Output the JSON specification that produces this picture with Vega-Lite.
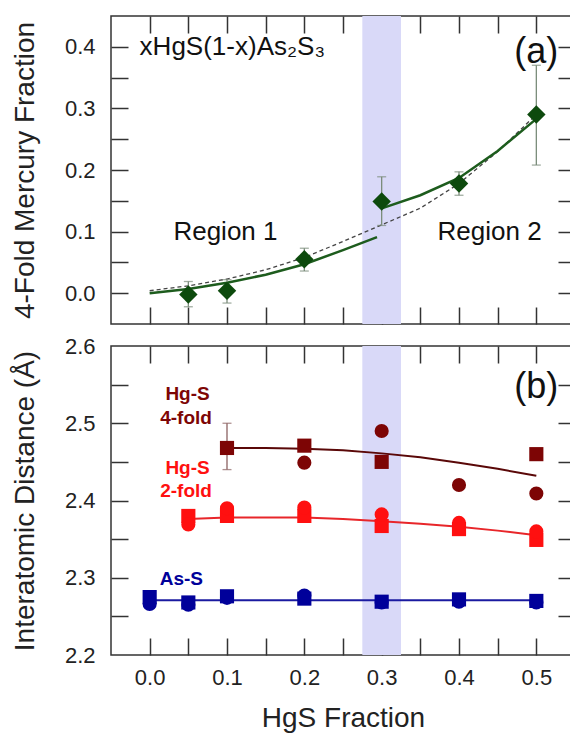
{
  "$schema": "https://vega.github.io/schema/vega-lite/v6.json",
  "padding": {"left": 10, "top": 14, "right": 0, "bottom": 0},
  "spacing": 22,
  "bounds": "flush",
  "datasets": {
    "top_pts": [
      {"x": 0.05, "y": -0.002, "lo": -0.022, "hi": 0.019},
      {"x": 0.1, "y": 0.004, "lo": -0.016, "hi": 0.022},
      {"x": 0.2, "y": 0.055, "lo": 0.036, "hi": 0.073},
      {"x": 0.3, "y": 0.149, "lo": 0.11, "hi": 0.189},
      {"x": 0.4, "y": 0.178, "lo": 0.159, "hi": 0.197},
      {"x": 0.5, "y": 0.29, "lo": 0.208, "hi": 0.37}
    ],
    "top_fit": [
      {"region": "Region 1", "x": 0.0, "y": 0.0},
      {"region": "Region 1", "x": 0.05, "y": 0.007},
      {"region": "Region 1", "x": 0.1, "y": 0.017},
      {"region": "Region 1", "x": 0.15, "y": 0.03},
      {"region": "Region 1", "x": 0.2, "y": 0.047},
      {"region": "Region 1", "x": 0.25, "y": 0.07},
      {"region": "Region 1", "x": 0.294, "y": 0.091},
      {"region": "Region 2", "x": 0.301, "y": 0.138},
      {"region": "Region 2", "x": 0.35, "y": 0.159},
      {"region": "Region 2", "x": 0.4, "y": 0.187},
      {"region": "Region 2", "x": 0.45, "y": 0.231},
      {"region": "Region 2", "x": 0.5, "y": 0.283}
    ],
    "top_dash": [
      {"x": 0.0, "y": 0.004},
      {"x": 0.05, "y": 0.012},
      {"x": 0.1, "y": 0.023},
      {"x": 0.15, "y": 0.038},
      {"x": 0.2, "y": 0.058},
      {"x": 0.25, "y": 0.084},
      {"x": 0.3, "y": 0.111},
      {"x": 0.35, "y": 0.138},
      {"x": 0.4, "y": 0.178},
      {"x": 0.45, "y": 0.23},
      {"x": 0.5, "y": 0.29}
    ],
    "bot_pts": [
      {"series": "Hg-S 4-fold", "shape": "square", "x": 0.1, "y": 2.468},
      {"series": "Hg-S 4-fold", "shape": "square", "x": 0.2, "y": 2.471},
      {"series": "Hg-S 4-fold", "shape": "square", "x": 0.3, "y": 2.45},
      {"series": "Hg-S 4-fold", "shape": "square", "x": 0.5, "y": 2.46},
      {"series": "Hg-S 4-fold", "shape": "circle", "x": 0.2, "y": 2.449},
      {"series": "Hg-S 4-fold", "shape": "circle", "x": 0.3, "y": 2.49},
      {"series": "Hg-S 4-fold", "shape": "circle", "x": 0.4, "y": 2.42},
      {"series": "Hg-S 4-fold", "shape": "circle", "x": 0.5, "y": 2.409},
      {"series": "Hg-S 2-fold", "shape": "square", "x": 0.05, "y": 2.38},
      {"series": "Hg-S 2-fold", "shape": "square", "x": 0.1, "y": 2.38},
      {"series": "Hg-S 2-fold", "shape": "square", "x": 0.2, "y": 2.38},
      {"series": "Hg-S 2-fold", "shape": "square", "x": 0.3, "y": 2.367},
      {"series": "Hg-S 2-fold", "shape": "square", "x": 0.4, "y": 2.363},
      {"series": "Hg-S 2-fold", "shape": "square", "x": 0.5, "y": 2.349},
      {"series": "Hg-S 2-fold", "shape": "circle", "x": 0.05, "y": 2.369},
      {"series": "Hg-S 2-fold", "shape": "circle", "x": 0.1, "y": 2.39},
      {"series": "Hg-S 2-fold", "shape": "circle", "x": 0.2, "y": 2.391},
      {"series": "Hg-S 2-fold", "shape": "circle", "x": 0.3, "y": 2.382},
      {"series": "Hg-S 2-fold", "shape": "circle", "x": 0.4, "y": 2.371},
      {"series": "Hg-S 2-fold", "shape": "circle", "x": 0.5, "y": 2.36},
      {"series": "As-S", "shape": "square", "x": 0.0, "y": 2.275},
      {"series": "As-S", "shape": "square", "x": 0.05, "y": 2.268},
      {"series": "As-S", "shape": "square", "x": 0.1, "y": 2.276},
      {"series": "As-S", "shape": "square", "x": 0.2, "y": 2.273},
      {"series": "As-S", "shape": "square", "x": 0.3, "y": 2.269},
      {"series": "As-S", "shape": "square", "x": 0.4, "y": 2.272},
      {"series": "As-S", "shape": "square", "x": 0.5, "y": 2.27},
      {"series": "As-S", "shape": "circle", "x": 0.0, "y": 2.266},
      {"series": "As-S", "shape": "circle", "x": 0.05, "y": 2.265},
      {"series": "As-S", "shape": "circle", "x": 0.1, "y": 2.274},
      {"series": "As-S", "shape": "circle", "x": 0.2, "y": 2.277},
      {"series": "As-S", "shape": "circle", "x": 0.3, "y": 2.268},
      {"series": "As-S", "shape": "circle", "x": 0.4, "y": 2.269},
      {"series": "As-S", "shape": "circle", "x": 0.5, "y": 2.268}
    ],
    "bot_fit": [
      {"series": "Hg-S 4-fold", "x": 0.1, "y": 2.468},
      {"series": "Hg-S 4-fold", "x": 0.15, "y": 2.468},
      {"series": "Hg-S 4-fold", "x": 0.2, "y": 2.467},
      {"series": "Hg-S 4-fold", "x": 0.25, "y": 2.465},
      {"series": "Hg-S 4-fold", "x": 0.3, "y": 2.461},
      {"series": "Hg-S 4-fold", "x": 0.35, "y": 2.456},
      {"series": "Hg-S 4-fold", "x": 0.4, "y": 2.449},
      {"series": "Hg-S 4-fold", "x": 0.45, "y": 2.441},
      {"series": "Hg-S 4-fold", "x": 0.5, "y": 2.432},
      {"series": "Hg-S 2-fold", "x": 0.05, "y": 2.376},
      {"series": "Hg-S 2-fold", "x": 0.1, "y": 2.378},
      {"series": "Hg-S 2-fold", "x": 0.15, "y": 2.378},
      {"series": "Hg-S 2-fold", "x": 0.2, "y": 2.378},
      {"series": "Hg-S 2-fold", "x": 0.25, "y": 2.376},
      {"series": "Hg-S 2-fold", "x": 0.3, "y": 2.373},
      {"series": "Hg-S 2-fold", "x": 0.35, "y": 2.37},
      {"series": "Hg-S 2-fold", "x": 0.4, "y": 2.366},
      {"series": "Hg-S 2-fold", "x": 0.45, "y": 2.361},
      {"series": "Hg-S 2-fold", "x": 0.5, "y": 2.355},
      {"series": "As-S", "x": 0.0, "y": 2.271},
      {"series": "As-S", "x": 0.5, "y": 2.271}
    ],
    "bot_err": [
      {"x": 0.1, "lo": 2.44, "hi": 2.5}
    ],
    "band": [
      {"start": 0.275, "end": 0.325}
    ]
  },
  "vconcat": [
    {
      "width": 464,
      "height": 308,
      "resolve": {"axis": {"x": "independent", "y": "independent"}},
      "layer": [
        {
          "data": {"name": "band"},
          "mark": {"type": "rect", "color": "#d9d9f8"},
          "encoding": {
            "x": {"field": "start", "type": "quantitative", "scale": {"domain": [-0.05, 0.55], "nice": false, "zero": false}, "axis": null},
            "x2": {"field": "end"}
          }
        },
        {
          "data": {"name": "top_dash"},
          "mark": {"type": "line", "color": "#444444", "strokeWidth": 1.3, "strokeDash": [4, 3]},
          "encoding": {
            "x": {"field": "x", "type": "quantitative", "scale": {"domain": [-0.05, 0.55], "nice": false, "zero": false}, "axis": null},
            "y": {"field": "y", "type": "quantitative", "scale": {"domain": [-0.05, 0.45], "nice": false, "zero": false}, "axis": null}
          }
        },
        {
          "data": {"name": "top_fit"},
          "mark": {"type": "line", "color": "#1d5c1d", "strokeWidth": 2.5},
          "encoding": {
            "x": {"field": "x", "type": "quantitative", "scale": {"domain": [-0.05, 0.55], "nice": false, "zero": false},
              "axis": {"orient": "top", "values": [0, 0.05, 0.1, 0.15, 0.2, 0.25, 0.3, 0.35, 0.4, 0.45, 0.5], "labels": false, "title": null,
                "encode": {"ticks": {"y2": {"value": {"expr": "abs(round(datum.value*20))%2==0 ? 17 : 9"}}}}}},
            "y": {"field": "y", "type": "quantitative", "scale": {"domain": [-0.05, 0.45], "nice": false, "zero": false},
              "axis": {"orient": "right", "values": [0, 0.05, 0.1, 0.15, 0.2, 0.25, 0.3, 0.35, 0.4], "labels": false, "title": null,
                "encode": {"ticks": {"x2": {"value": {"expr": "abs(round(datum.value*20))%2==0 ? -17 : -9"}}}}}},
            "detail": {"field": "region"}
          }
        },
        {
          "data": {"name": "top_pts"},
          "mark": {"type": "errorbar", "ticks": {"size": 9}, "color": "#7a8c7a", "thickness": 1.3},
          "encoding": {
            "x": {"field": "x", "type": "quantitative", "scale": {"domain": [-0.05, 0.55], "nice": false, "zero": false}, "axis": null},
            "y": {"field": "lo", "type": "quantitative", "scale": {"domain": [-0.05, 0.45], "nice": false, "zero": false}, "axis": null},
            "y2": {"field": "hi"}
          }
        },
        {
          "data": {"name": "top_pts"},
          "mark": {"type": "point", "shape": "diamond", "filled": true, "opacity": 1, "size": 340, "color": "#0d4a0d"},
          "encoding": {
            "x": {"field": "x", "type": "quantitative", "scale": {"domain": [-0.05, 0.55], "nice": false, "zero": false},
              "axis": {"orient": "bottom", "values": [0, 0.05, 0.1, 0.15, 0.2, 0.25, 0.3, 0.35, 0.4, 0.45, 0.5], "labels": false, "title": null,
                "encode": {"ticks": {"y2": {"value": {"expr": "abs(round(datum.value*20))%2==0 ? -17 : -9"}}}}}},
            "y": {"field": "y", "type": "quantitative", "scale": {"domain": [-0.05, 0.45], "nice": false, "zero": false},
              "axis": {"orient": "left", "values": [0, 0.1, 0.2, 0.3, 0.4], "title": "4-Fold Mercury Fraction",
                "ticks": false, "tickSize": 0, "labelPadding": 16, "format": ".1f"}}
          }
        },
        {
          "data": {"values": [{"label": "xHgS(1-x)As₂S₃", "x": -0.013, "y": 0.387}]},
          "mark": {"type": "text", "align": "left", "baseline": "alphabetic", "fontSize": 26, "color": "#111"},
          "encoding": {
            "x": {"field": "x", "type": "quantitative", "scale": {"domain": [-0.05, 0.55], "nice": false, "zero": false}, "axis": null},
            "y": {"field": "y", "type": "quantitative", "scale": {"domain": [-0.05, 0.45], "nice": false, "zero": false},
              "axis": {"orient": "left", "values": [0, 0.05, 0.1, 0.15, 0.2, 0.25, 0.3, 0.35, 0.4], "labels": false, "title": null,
                "encode": {"ticks": {"x2": {"value": {"expr": "abs(round(datum.value*20))%2==0 ? 17 : 9"}}}}}},
            "text": {"field": "label"}
          }
        },
        {
          "data": {"values": [{"label": "(a)", "x": 0.5, "y": 0.374}]},
          "mark": {"type": "text", "align": "center", "baseline": "alphabetic", "fontSize": 36, "color": "#111"},
          "encoding": {
            "x": {"field": "x", "type": "quantitative", "scale": {"domain": [-0.05, 0.55], "nice": false, "zero": false}, "axis": null},
            "y": {"field": "y", "type": "quantitative", "scale": {"domain": [-0.05, 0.45], "nice": false, "zero": false}, "axis": null},
            "text": {"field": "label"}
          }
        },
        {
          "data": {"values": [{"label": "Region 1", "x": 0.098, "y": 0.0865}, {"label": "Region 2", "x": 0.4395, "y": 0.0865}]},
          "mark": {"type": "text", "align": "center", "baseline": "alphabetic", "fontSize": 26, "color": "#111"},
          "encoding": {
            "x": {"field": "x", "type": "quantitative", "scale": {"domain": [-0.05, 0.55], "nice": false, "zero": false}, "axis": null},
            "y": {"field": "y", "type": "quantitative", "scale": {"domain": [-0.05, 0.45], "nice": false, "zero": false}, "axis": null},
            "text": {"field": "label"}
          }
        }
      ]
    },
    {
      "width": 464,
      "height": 309,
      "resolve": {"axis": {"x": "independent", "y": "independent"}},
      "layer": [
        {
          "data": {"name": "band"},
          "mark": {"type": "rect", "color": "#d9d9f8"},
          "encoding": {
            "x": {"field": "start", "type": "quantitative", "scale": {"domain": [-0.05, 0.55], "nice": false, "zero": false}, "axis": null},
            "x2": {"field": "end"}
          }
        },
        {
          "data": {"name": "bot_fit"},
          "mark": {"type": "line", "strokeWidth": 2},
          "encoding": {
            "x": {"field": "x", "type": "quantitative", "scale": {"domain": [-0.05, 0.55], "nice": false, "zero": false},
              "axis": {"orient": "top", "values": [0, 0.05, 0.1, 0.15, 0.2, 0.25, 0.3, 0.35, 0.4, 0.45, 0.5], "labels": false, "title": null,
                "encode": {"ticks": {"y2": {"value": {"expr": "abs(round(datum.value*20))%2==0 ? 17 : 9"}}}}}},
            "y": {"field": "y", "type": "quantitative", "scale": {"domain": [2.2, 2.6], "nice": false, "zero": false},
              "axis": {"orient": "right", "values": [2.25, 2.3, 2.35, 2.4, 2.45, 2.5, 2.55], "labels": false, "title": null,
                "encode": {"ticks": {"x2": {"value": {"expr": "abs(round(datum.value*20))%2==0 ? -17 : -9"}}}}}},
            "stroke": {"field": "series", "type": "nominal", "legend": null,
              "scale": {"domain": ["Hg-S 4-fold", "Hg-S 2-fold", "As-S"], "range": ["#5a0808", "#e8262a", "#1a1aa0"]}}
          }
        },
        {
          "data": {"name": "bot_err"},
          "mark": {"type": "errorbar", "ticks": {"size": 9}, "color": "#8b6262", "thickness": 1.3},
          "encoding": {
            "x": {"field": "x", "type": "quantitative", "scale": {"domain": [-0.05, 0.55], "nice": false, "zero": false}, "axis": null},
            "y": {"field": "lo", "type": "quantitative", "scale": {"domain": [2.2, 2.6], "nice": false, "zero": false}, "axis": null},
            "y2": {"field": "hi"}
          }
        },
        {
          "data": {"name": "bot_pts"},
          "mark": {"type": "point", "filled": true, "opacity": 1, "size": 200},
          "encoding": {
            "x": {"field": "x", "type": "quantitative", "scale": {"domain": [-0.05, 0.55], "nice": false, "zero": false},
              "axis": {"orient": "bottom", "values": [0, 0.1, 0.2, 0.3, 0.4, 0.5], "title": "HgS Fraction",
                "ticks": false, "tickSize": 0, "labelPadding": 12, "titlePadding": 16, "format": ".1f"}},
            "y": {"field": "y", "type": "quantitative", "scale": {"domain": [2.2, 2.6], "nice": false, "zero": false},
              "axis": {"orient": "left", "values": [2.2, 2.3, 2.4, 2.5, 2.6], "title": "Interatomic Distance (Å)",
                "ticks": false, "tickSize": 0, "labelPadding": 16, "format": ".1f"}},
            "color": {"field": "series", "type": "nominal", "legend": null,
              "scale": {"domain": ["Hg-S 4-fold", "Hg-S 2-fold", "As-S"], "range": ["#7d0505", "#ff1010", "#00009a"]}},
            "shape": {"field": "shape", "type": "nominal", "legend": null,
              "scale": {"domain": ["square", "circle"], "range": ["square", "circle"]}}
          }
        },
        {
          "data": {"values": [
            {"label": "Hg-S", "series": "Hg-S 4-fold", "x": 0.049, "y": 2.53},
            {"label": "4-fold", "series": "Hg-S 4-fold", "x": 0.047, "y": 2.499},
            {"label": "Hg-S", "series": "Hg-S 2-fold", "x": 0.049, "y": 2.434},
            {"label": "2-fold", "series": "Hg-S 2-fold", "x": 0.047, "y": 2.404},
            {"label": "As-S", "series": "As-S", "x": 0.041, "y": 2.29}
          ]},
          "mark": {"type": "text", "align": "center", "baseline": "alphabetic", "fontSize": 19, "fontWeight": "bold"},
          "encoding": {
            "x": {"field": "x", "type": "quantitative", "scale": {"domain": [-0.05, 0.55], "nice": false, "zero": false},
              "axis": {"orient": "bottom", "values": [0, 0.05, 0.1, 0.15, 0.2, 0.25, 0.3, 0.35, 0.4, 0.45, 0.5], "labels": false, "title": null,
                "encode": {"ticks": {"y2": {"value": {"expr": "abs(round(datum.value*20))%2==0 ? -17 : -9"}}}}}},
            "y": {"field": "y", "type": "quantitative", "scale": {"domain": [2.2, 2.6], "nice": false, "zero": false},
              "axis": {"orient": "left", "values": [2.25, 2.3, 2.35, 2.4, 2.45, 2.5, 2.55], "labels": false, "title": null,
                "encode": {"ticks": {"x2": {"value": {"expr": "abs(round(datum.value*20))%2==0 ? 17 : 9"}}}}}},
            "text": {"field": "label"},
            "color": {"field": "series", "type": "nominal", "legend": null,
              "scale": {"domain": ["Hg-S 4-fold", "Hg-S 2-fold", "As-S"], "range": ["#7d0505", "#ff1010", "#00009a"]}}
          }
        },
        {
          "data": {"values": [{"label": "(b)", "x": 0.5, "y": 2.533}]},
          "mark": {"type": "text", "align": "center", "baseline": "alphabetic", "fontSize": 36, "color": "#111"},
          "encoding": {
            "x": {"field": "x", "type": "quantitative", "scale": {"domain": [-0.05, 0.55], "nice": false, "zero": false}, "axis": null},
            "y": {"field": "y", "type": "quantitative", "scale": {"domain": [2.2, 2.6], "nice": false, "zero": false}, "axis": null},
            "text": {"field": "label"}
          }
        }
      ]
    }
  ],
  "config": {
    "font": "Liberation Sans",
    "view": {"stroke": "#333333", "strokeWidth": 1.5},
    "axis": {
      "domain": false,
      "grid": false,
      "tickSize": -17,
      "tickColor": "#333333",
      "tickWidth": 1.5,
      "labelFont": "Liberation Sans",
      "labelFontSize": 22,
      "labelColor": "#222222",
      "labelPadding": 33,
      "labelOverlap": false,
      "labelFlush": false,
      "titleFont": "Liberation Sans",
      "titleFontSize": 28,
      "titleFontWeight": "normal",
      "titleColor": "#222222",
      "titlePadding": 25
    }
  }
}
